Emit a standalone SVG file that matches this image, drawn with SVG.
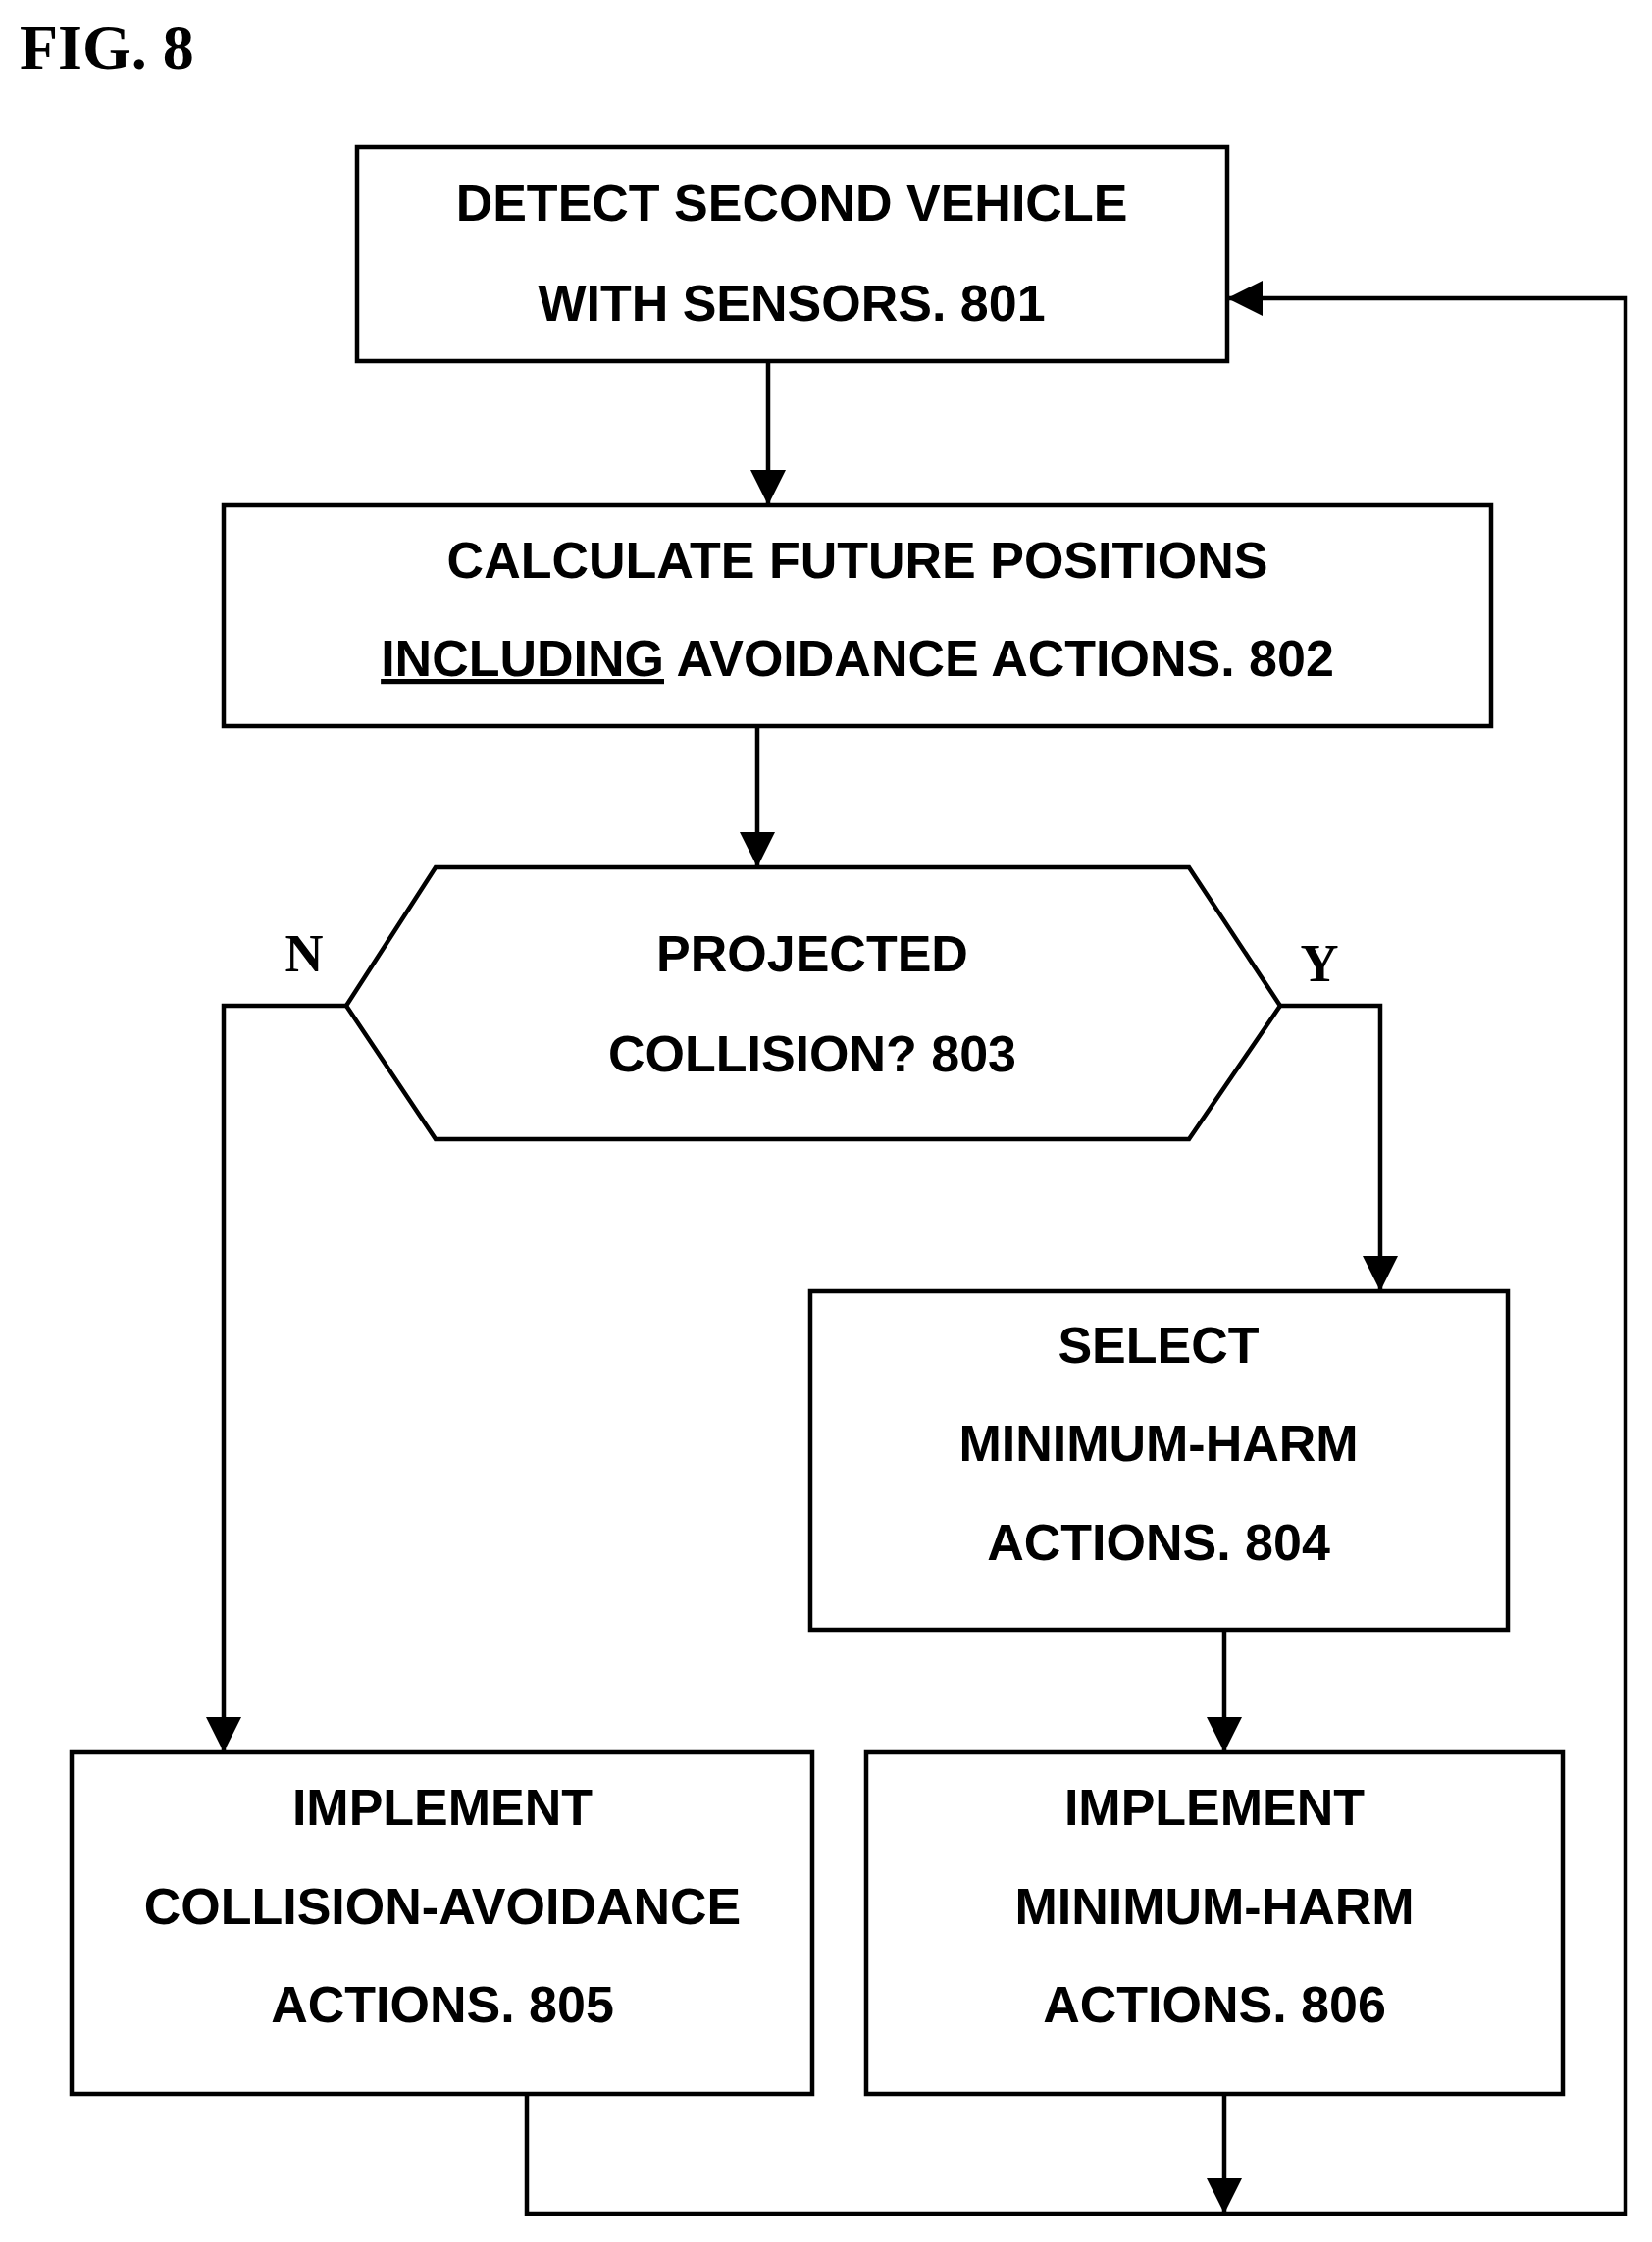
<svg xmlns="http://www.w3.org/2000/svg" width="1684" height="2285" viewBox="0 0 1684 2285">
<style>
.b{fill:#fff;stroke:#000;stroke-width:4.5}
.t{font-family:"Liberation Sans",Arial,sans-serif;font-weight:bold;font-size:52px;text-anchor:middle;fill:#000}
.l{font-family:"Liberation Serif","Times New Roman",serif;font-weight:bold;fill:#000}
.c{fill:none;stroke:#000;stroke-width:4.5}
</style>
<defs><marker id="a" markerWidth="10" markerHeight="10" refX="9" refY="5" orient="auto" markerUnits="userSpaceOnUse" viewBox="0 0 10 10"><path d="M0,0L10,5L0,10z"/></marker>
<marker id="m" viewBox="0 0 10 10" refX="10" refY="5" markerWidth="36" markerHeight="36" markerUnits="userSpaceOnUse" orient="auto"><path d="M0,0L10,5L0,10z" fill="#000"/></marker></defs>
<text class="l" x="20" y="70" font-size="64">FIG. 8</text>
<g id="n801"><rect class="b" x="364" y="150" width="887" height="218"/><text class="t" x="807" y="225">DETECT SECOND VEHICLE</text><text class="t" x="807" y="327">WITH SENSORS.  801</text></g>
<g id="n802"><rect class="b" x="228" y="515" width="1292" height="225"/><text class="t" x="874" y="589">CALCULATE FUTURE POSITIONS</text><text class="t" x="874" y="689"><tspan text-decoration="underline">INCLUDING</tspan> AVOIDANCE ACTIONS. 802</text></g>
<g id="n803"><polygon class="b" points="353,1025 444,884 1212,884 1305,1025 1212,1161 444,1161"/><text class="t" x="828" y="990">PROJECTED</text><text class="t" x="828" y="1092">COLLISION?  803</text></g>
<g id="n804"><rect class="b" x="826" y="1316" width="711" height="345"/><text class="t" x="1181" y="1389">SELECT</text><text class="t" x="1181" y="1489">MINIMUM-HARM</text><text class="t" x="1181" y="1590">ACTIONS.  804</text></g>
<g id="n805"><rect class="b" x="73" y="1786" width="755" height="348"/><text class="t" x="451" y="1860">IMPLEMENT</text><text class="t" x="451" y="1961">COLLISION-AVOIDANCE</text><text class="t" x="451" y="2061">ACTIONS.  805</text></g>
<g id="n806"><rect class="b" x="883" y="1786" width="710" height="348"/><text class="t" x="1238" y="1860">IMPLEMENT</text><text class="t" x="1238" y="1961">MINIMUM-HARM</text><text class="t" x="1238" y="2061">ACTIONS.  806</text></g>
<g id="connectors">
<path class="c" d="M783,368V515" marker-end="url(#m)"/>
<path class="c" d="M772,740V884" marker-end="url(#m)"/>
<path class="c" d="M353,1025H228V1786" marker-end="url(#m)"/>
<path class="c" d="M1305,1025H1407V1316" marker-end="url(#m)"/>
<path class="c" d="M1248,1661V1786" marker-end="url(#m)"/>
<path class="c" d="M1248,2134V2256" marker-end="url(#m)"/>
<path class="c" d="M537,2134V2256H1657V304H1251" marker-end="url(#m)"/>
<text class="l" x="310" y="990" font-size="54" text-anchor="middle">N</text>
<text class="l" x="1345" y="1000" font-size="54" text-anchor="middle">Y</text>
</g>
</svg>
